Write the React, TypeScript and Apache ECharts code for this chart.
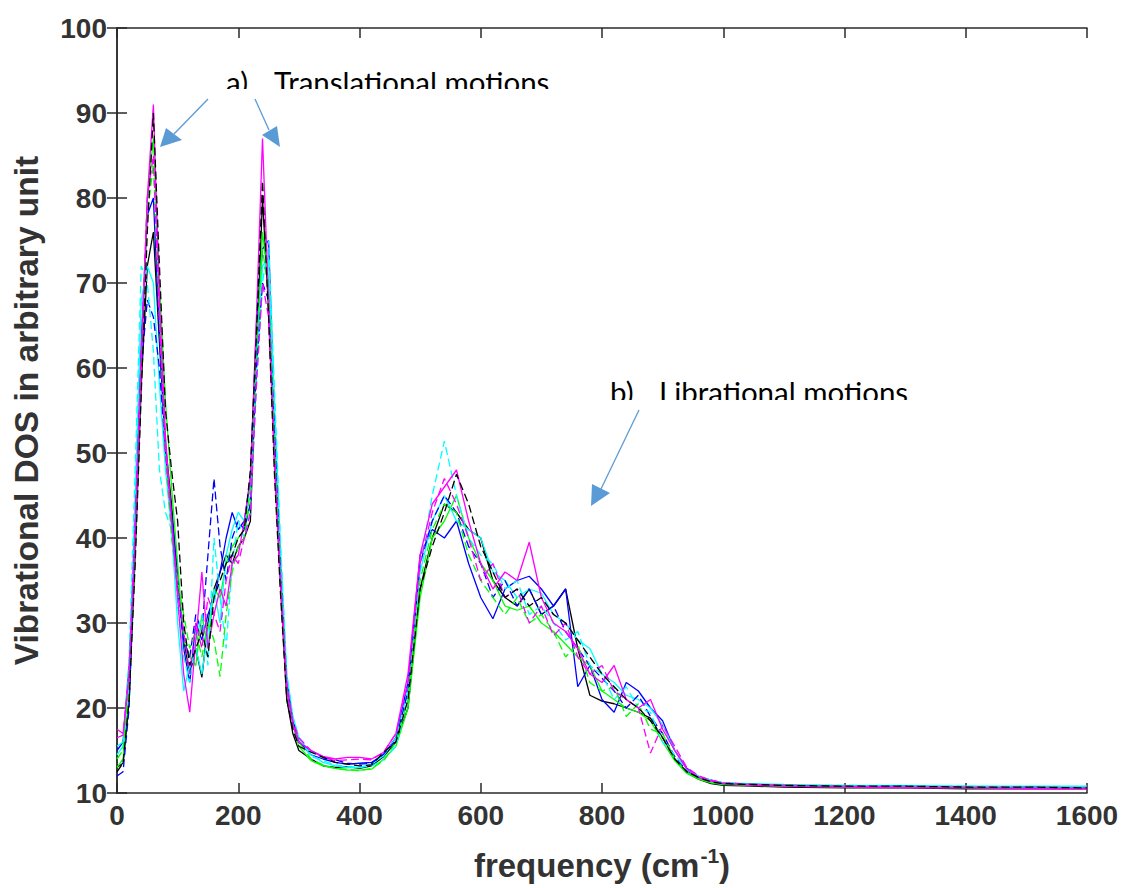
import React, { useEffect, useRef } from "react";
import * as echarts from "echarts";

// frequency grid (cm^-1)
const freq = [
  0, 10, 20, 30, 40, 50, 60, 70, 80, 90, 100, 110, 120, 130, 140, 150, 160, 170, 180, 190, 200,
  210, 220, 230, 240, 250, 260, 270, 280, 290, 300,
  320, 340, 360, 380, 400, 420, 440, 460, 480, 500, 520, 540, 560, 580, 600, 620, 640, 660, 680, 700,
  720, 740, 760, 780, 800, 820, 840, 860, 880, 900, 920, 940, 960, 980, 1000,
  1050, 1100, 1200, 1300, 1400, 1500, 1600,
];

const blackSolid = [
  13, 13.5, 21, 38, 58, 72, 76, 63, 51, 44, 35, 28, 24, 27, 23.6, 30, 34, 36, 38, 37, 39,
  40, 42, 61, 80, 67, 49, 34, 21, 17, 15,
  14, 13.2, 13, 13.1, 12.9, 13.2, 14.3, 16, 20, 34, 40, 44, 43, 41, 40, 35, 33, 32, 34, 31,
  32, 34, 27, 21.5, 20.8, 20.5, 20, 19.5, 18.8, 16.5, 14, 12.4, 11.6, 11.1, 10.9,
  10.8, 10.7, 10.6, 10.6, 10.5, 10.5, 10.5,
];
const blackDashed = [
  12.5, 13.5, 21, 37, 57, 76, 90, 72, 55, 48, 42, 30, 25, 27, 29, 26, 33, 35, 37, 38, 40,
  41, 48, 64, 82, 66, 47, 33, 21, 17.5, 15.5,
  14.8, 14.2, 13.6, 13.4, 13.2, 13.3, 14.8, 16, 21, 34, 39, 43, 47.5, 44, 39, 36, 33, 34, 32, 33,
  31, 30, 28, 26, 24, 22.5, 21, 20, 18.5, 16.5, 14, 12.5, 11.8, 11.3, 11.1,
  11, 10.9, 10.8, 10.8, 10.7, 10.7, 10.6,
];
const blueSolid = [
  15, 16, 25, 42, 63, 78, 80, 64, 50, 43, 36, 27, 23, 30, 28, 31, 33, 36, 40, 43, 41,
  42, 47, 65, 74, 75, 54, 37, 23, 18.5, 16,
  14.5, 14, 13.6, 13.4, 13.5, 13.6, 14.5, 16.5, 23, 38, 41, 40, 42, 37, 33, 30.5, 34, 35, 35.5, 34,
  32, 34, 22.5, 25, 21, 19.5, 23, 22, 20, 18.5, 15, 12.9, 11.9, 11.5, 11.2,
  11, 10.9, 10.8, 10.8, 10.7, 10.7, 10.7,
];
const blueDashed = [
  12, 12.5, 20, 41, 60, 68, 66, 60, 50, 42, 34, 28, 26, 31, 29, 38, 47, 39, 35, 40, 42,
  41, 44, 60, 70, 68, 52, 36, 23, 18.5, 16,
  15, 14.2, 13.9, 13.5, 13.4, 13.5, 14.6, 16.2, 22, 37, 42, 45, 43, 39, 37, 33, 35, 32, 34, 31,
  32, 29, 27, 25, 23.5, 22, 20, 21.5, 19, 17, 14.3, 12.6, 11.8, 11.4, 11.1,
  11, 10.9, 10.8, 10.8, 10.7, 10.7, 10.6,
];
const greenSolid = [
  13, 14, 22, 39, 60, 80, 87, 70, 56, 46, 37, 28, 26, 25, 31, 27, 34, 33, 37, 39, 40,
  41, 44, 60, 76, 70, 52, 36, 22, 18, 15.5,
  13.8, 13.2, 12.9, 12.7, 12.7, 12.8, 14, 15.5, 20, 33, 40, 42, 45, 40, 37, 35, 32, 31.5, 32, 30,
  29, 27.5, 26, 25, 22, 21, 20, 19.5, 18.5, 16, 13.8, 12.3, 11.6, 11.2, 11,
  10.9, 10.8, 10.7, 10.7, 10.6, 10.6, 10.6,
];
const greenDashed = [
  14, 15, 23, 40, 61, 78, 84, 66, 50, 40, 35, 31, 27, 29, 26, 30, 28, 23.7, 31, 36, 39,
  40, 46, 63, 74, 69, 50, 35, 22, 18, 16,
  14, 13.3, 12.9, 12.8, 12.6, 12.9, 13.8, 16, 21, 35, 41, 44, 43, 38, 35, 33, 31, 33, 30, 31,
  29, 26, 27.5, 23, 22, 22.5, 19, 20.5, 17.5, 17, 14, 12.4, 11.7, 11.3, 11.1,
  11, 10.9, 10.8, 10.7, 10.7, 10.6, 10.6,
];
const magentaSolid = [
  17.5, 17, 24, 40, 60, 80, 91, 68, 52, 42, 33, 24, 19.5, 28, 36, 27, 31, 34, 32, 37, 38,
  42, 47, 66, 87, 68, 48, 34, 22, 18, 16,
  15, 14.3, 14, 14.2, 14.2, 14, 14.8, 17, 24, 38, 44, 46, 48, 42, 37, 34, 36, 35, 39.5, 33,
  30, 29, 27, 24, 23, 25, 21, 20, 21, 17.5, 15, 12.8, 11.8, 11.4, 11.1,
  10.9, 10.8, 10.7, 10.6, 10.6, 10.5, 10.5,
];
const magentaDashed = [
  16.5, 16.8, 24, 42, 62, 80, 85, 66, 50, 42, 34, 29, 24, 30, 27, 33, 31, 29, 35, 38, 37,
  40, 43, 58, 70, 66, 50, 35, 23, 18.5, 16.5,
  15, 14.2, 13.8, 13.9, 14, 13.9, 14.8, 17, 23, 37, 43, 47, 44, 40, 35, 37, 33, 34, 30, 32,
  28.5, 30, 26, 24, 25, 22, 21, 20, 14.7, 18, 15.5, 13, 12, 11.5, 11.2,
  11, 10.9, 10.8, 10.7, 10.7, 10.6, 10.6,
];
const cyanSolid = [
  14.5, 15.5, 24, 45, 68, 72, 70, 58, 48, 41, 30, 22, 25, 27, 24, 29, 34, 30, 38, 41, 43,
  42, 45, 60, 72, 73, 55, 38, 24, 19, 16.5,
  14.5, 13.6, 13.2, 13, 13, 13.4, 14.4, 16.5, 22, 36, 42, 45, 42, 41, 40, 36, 35, 33, 34, 33.5,
  31, 30, 28, 27, 24, 23, 21.5, 21, 20, 18, 15, 12.8, 11.9, 11.5, 11.2,
  11.1, 11, 10.9, 10.9, 10.8, 10.8, 10.8,
];
const cyanDashed = [
  15.5, 16, 26, 48, 72, 70, 62, 48, 43, 41, 32, 26, 23, 28, 31, 25, 40, 33, 27, 37, 42,
  40, 43, 58, 70, 75, 57, 39, 24, 19, 16.5,
  14.3, 13.8, 13.3, 13.1, 13, 13.2, 13.9, 15.5, 21, 37, 45, 51.4, 45, 40, 38, 37, 34, 35, 31, 32,
  30, 28, 29, 25, 24, 21, 22.5, 20, 19.5, 16, 14.5, 12.7, 11.9, 11.4, 11.2,
  11, 10.9, 10.9, 10.8, 10.8, 10.7, 10.7,
];

const xTicks = [0, 200, 400, 600, 800, 1000, 1200, 1400, 1600];
const yTicks = [10, 20, 30, 40, 50, 60, 70, 80, 90, 100];

const curves = [
  { name: "k-", values: blackSolid, color: "#000000", dash: false },
  { name: "b-", values: blueSolid, color: "#0000ff", dash: false },
  { name: "g-", values: greenSolid, color: "#00ff00", dash: false },
  { name: "c-", values: cyanSolid, color: "#00ffff", dash: false },
  { name: "b--", values: blueDashed, color: "#0000ff", dash: true },
  { name: "c--", values: cyanDashed, color: "#00ffff", dash: true },
  { name: "g--", values: greenDashed, color: "#00ff00", dash: true },
  { name: "m--", values: magentaDashed, color: "#ff00ff", dash: true },
  { name: "m-", values: magentaSolid, color: "#ff00ff", dash: false },
  { name: "k--", values: blackDashed, color: "#000000", dash: true },
];

const AX = "#2a2a2a";
const LBL = "#333333";
const FONT = "'Liberation Sans', Arial, sans-serif";
const ARROW = "#5b9bd5";
const ANN = 29.5;

export default function App() {
  const ref = useRef<HTMLDivElement>(null);
  useEffect(() => {
    if (!ref.current) return;
    const chart = echarts.init(ref.current, null, { renderer: "svg" });
    const axisCommon = {
      type: "value" as const,
      axisLine: { show: true, lineStyle: { color: AX, width: 1.5 } },
      axisTick: { show: true, inside: true, length: 10, lineStyle: { color: AX, width: 1.5 } },
      splitLine: { show: false },
    };
    chart.setOption({
      animation: false,
      backgroundColor: "#ffffff",
      grid: { left: 117, right: 38, top: 28, bottom: 95, containLabel: false, outerBoundsMode: "none" },
      xAxis: [
        {
          ...axisCommon,
          position: "bottom",
          min: xTicks[0],
          max: xTicks[xTicks.length - 1],
          interval: 200,
          axisLabel: { fontSize: 28, fontWeight: "bold", color: LBL, fontFamily: FONT, margin: 8, formatter: (v: number) => String(v) },
          name: "{a|frequency (cm}{s|-1}{a|)}",
          nameLocation: "middle",
          nameGap: 52,
          nameTextStyle: {
            rich: {
              a: { fontSize: 33, fontWeight: "bold", color: LBL, fontFamily: FONT, lineHeight: 40 },
              s: { fontSize: 21, fontWeight: "bold", color: LBL, fontFamily: FONT, verticalAlign: "top", lineHeight: 40, padding: [0, 0, 0, 1] },
            },
          },
        },
        {
          ...axisCommon,
          position: "top",
          min: xTicks[0],
          max: xTicks[xTicks.length - 1],
          interval: 200,
          axisLabel: { show: false },
        },
      ],
      yAxis: [
        {
          ...axisCommon,
          position: "left",
          min: yTicks[0],
          max: yTicks[yTicks.length - 1],
          interval: 10,
          axisLabel: { fontSize: 28, fontWeight: "bold", color: LBL, fontFamily: FONT, margin: 10, formatter: (v: number) => String(v) },
          name: "Vibrational DOS in arbitrary unit",
          nameLocation: "middle",
          nameGap: 74,
          nameTextStyle: { fontSize: 33.5, fontWeight: "bold", color: LBL, fontFamily: FONT },
        },
        {
          ...axisCommon,
          position: "right",
          min: yTicks[0],
          max: yTicks[yTicks.length - 1],
          interval: 10,
          axisLabel: { show: false },
        },
      ],
      series: curves.map((c) => ({
        name: c.name,
        type: "line",
        xAxisIndex: 0,
        yAxisIndex: 0,
        showSymbol: false,
        symbol: "none",
        lineStyle: { color: c.color, width: 1.3, type: c.dash ? [8, 4] : "solid" },
        data: freq.map((f, i) => [f, c.values[i]]),
      })),
      graphic: [
        { type: "text", x: 226, y: 66, z: 10, style: { text: "a)", fontSize: ANN, fontFamily: "Lato", fill: "#000", verticalAlign: "top" } },
        { type: "text", x: 274, y: 66, z: 10, style: { text: "Translational motions", fontSize: ANN, fontFamily: "Lato", fill: "#000", verticalAlign: "top" } },
        { type: "rect", z: 11, shape: { x: 220, y: 89, width: 345, height: 9 }, style: { fill: "#ffffff" } },
        { type: "text", x: 610, y: 376, z: 10, style: { text: "b)", fontSize: ANN, fontFamily: "Lato", fill: "#000", verticalAlign: "top" } },
        { type: "text", x: 659, y: 376, z: 10, style: { text: "Librational motions", fontSize: ANN, fontFamily: "Lato", fill: "#000", verticalAlign: "top" } },
        { type: "rect", z: 11, shape: { x: 604, y: 400, width: 320, height: 8 }, style: { fill: "#ffffff" } },
        { type: "line", z: 12, shape: { x1: 208, y1: 99, x2: 174, y2: 134 }, style: { stroke: ARROW, lineWidth: 1.3 } },
        { type: "polygon", z: 12, shape: { points: [[160, 147], [166, 128], [182, 140]] }, style: { fill: ARROW } },
        { type: "line", z: 12, shape: { x1: 255, y1: 99, x2: 269, y2: 130 }, style: { stroke: ARROW, lineWidth: 1.3 } },
        { type: "polygon", z: 12, shape: { points: [[280, 147], [262, 135], [277, 126]] }, style: { fill: ARROW } },
        { type: "line", z: 12, shape: { x1: 639, y1: 410, x2: 601, y2: 489 }, style: { stroke: ARROW, lineWidth: 1.3 } },
        { type: "polygon", z: 12, shape: { points: [[591, 506], [592, 484], [610, 493]] }, style: { fill: ARROW } },
      ],
    });
    return () => chart.dispose();
  }, []);
  return <div ref={ref} style={{ position: "fixed", left: 0, top: 0, width: 1125, height: 888 }} />;
}
